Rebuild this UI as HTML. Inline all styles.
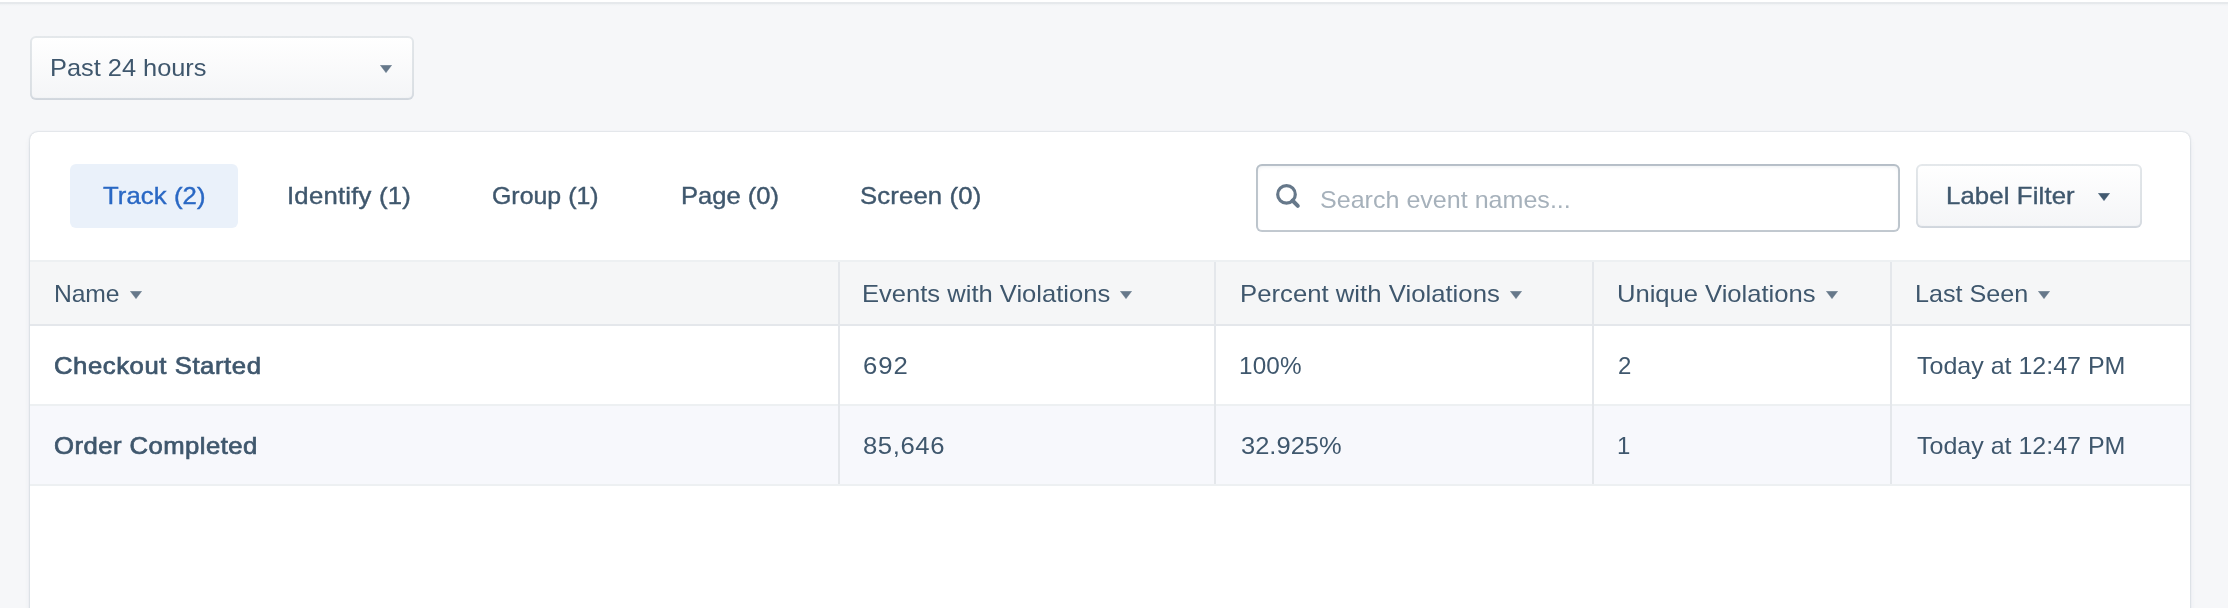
<!DOCTYPE html>
<html lang="en">
<head>
<meta charset="utf-8">
<title>Protocols - Violations</title>
<style>
html, body { margin: 0; padding: 0; }
body {
  width: 2228px; height: 608px; overflow: hidden; position: relative;
  background: #f6f7f9;
  font-family: "Liberation Sans", Arial, sans-serif;
  font-size: 24px; line-height: 26px; color: #3f576d;
}
.abs { position: absolute; }
.caret { position: absolute; }
.txt { position: absolute; white-space: nowrap; line-height: 26px; font-size: 24px; will-change: transform; transform-origin: 0 0; }
.sel { color: #2a68c4; }
.ph { color: #a6b1bb; }
.b { -webkit-text-stroke: 0.7px #3f576d; }
.tabtxt, .btntxt { -webkit-text-stroke: 0.4px #3f576d; }
.tabtxt.sel { -webkit-text-stroke: 0.4px #2a68c4; }
.topbar { position: absolute; left: 0; top: 0; width: 2228px; height: 2px; background: #fff; border-bottom: 2px solid #e6e9ec; }
.topshadow { position: absolute; left: 0; top: 4px; width: 2228px; height: 2px; background: linear-gradient(#eff1f3, #f6f7f9); }
.btn {
  position: absolute; box-sizing: border-box; border-radius: 6px;
  background-image: linear-gradient(to bottom, #ffffff, #f4f5f7);
  box-shadow: inset 0 0 0 2px rgba(67,90,111,0.14), inset 0 -2px 2px 0 rgba(67,90,111,0.06);
}
.select { left: 30px; top: 36px; width: 384px; height: 64px; }
.labelfilter { left: 1916px; top: 164px; width: 226px; height: 64px; }
.card {
  position: absolute; left: 30px; top: 132px; width: 2160px; height: 520px;
  background: #fff; border-radius: 8px;
  box-shadow: 0 0 2px rgba(67,90,111,0.35), 0 4px 8px -4px rgba(67,90,111,0.3);
}
.tab-active { position: absolute; left: 70px; top: 164px; width: 168px; height: 64px; border-radius: 6px; background: #eaf1fa; }
.search {
  position: absolute; left: 1256px; top: 164px; width: 644px; height: 68px; box-sizing: border-box;
  border-radius: 6px; background: #fff;
  box-shadow: inset 0 0 0 2px rgba(67,90,111,0.32), inset 0 2px 4px rgba(67,90,111,0.14);
}
.thead { position: absolute; left: 30px; top: 260px; width: 2160px; height: 62px; background: #f5f6f7; border-top: 2px solid #edf0f2; border-bottom: 2px solid #e4e7eb; }
.row { position: absolute; left: 30px; width: 2160px; height: 78px; border-bottom: 2px solid #edf0f2; }
.r1 { top: 326px; background: #fff; }
.r2 { top: 406px; background: #f7f8fc; }
.vdiv { position: absolute; top: 262px; width: 2px; height: 222px; background: #e4e7eb; }

</style>
</head>
<body>
<div class="topbar"></div>
<div class="topshadow"></div>

<!-- time range select -->
<div class="select btn"></div>
<span class="txt " style="left:50.1px;top:55.0px;letter-spacing:-0.015px;transform:scaleX(1.0579);">Past 24 hours</span>
<svg class="caret" style="left:380px;top:65px;" width="12" height="8" viewBox="0 0 12 8"><path d="M0.3 0.2 L11.7 0.2 L6 7.7 Z" fill="#66788a" stroke="#66788a" stroke-width="0.4" stroke-linejoin="round"/></svg>

<!-- card -->
<div class="card"></div>

<!-- tabs -->
<nav class="tabs">
<div class="tab-active"></div>
<span class="txt tabtxt sel" style="left:103.2px;top:182.8px;letter-spacing:0.085px;transform:scaleX(1.07);">Track (2)</span>
<span class="txt tabtxt" style="left:286.7px;top:182.8px;letter-spacing:0.221px;transform:scaleX(1.07);">Identify (1)</span>
<span class="txt tabtxt" style="left:492.4px;top:182.8px;letter-spacing:0.024px;transform:scaleX(1.0356);">Group (1)</span>
<span class="txt tabtxt" style="left:680.6px;top:182.8px;letter-spacing:0.027px;transform:scaleX(1.0629);">Page (0)</span>
<span class="txt tabtxt" style="left:859.7px;top:182.8px;letter-spacing:0.135px;transform:scaleX(1.07);">Screen (0)</span>
</nav>

<!-- search -->
<div class="search"></div>
<svg class="abs" style="left:1272px;top:180px;" width="32" height="32" viewBox="0 0 32 32">
  <circle cx="14.5" cy="14.4" r="8.8" fill="none" stroke="#66788a" stroke-width="3.2"/>
  <line x1="20.5" y1="20.5" x2="25.8" y2="25.8" stroke="#66788a" stroke-width="4" stroke-linecap="round"/>
</svg>
<span class="txt ph" style="left:1319.5px;top:187.0px;letter-spacing:-0.0px;transform:scaleX(1.0443);">Search event names...</span>

<!-- label filter -->
<div class="labelfilter btn"></div>
<span class="txt btntxt" style="left:1946.4px;top:183.4px;letter-spacing:0.137px;transform:scaleX(1.07);">Label Filter</span>
<svg class="caret" style="left:2098px;top:193px;" width="12" height="8" viewBox="0 0 12 8"><path d="M0.3 0.2 L11.7 0.2 L6 7.7 Z" fill="#425a70" stroke="#425a70" stroke-width="0.4" stroke-linejoin="round"/></svg>

<!-- table -->
<div class="thead"></div>
<div class="row r1"></div>
<div class="row r2"></div>
<div class="vdiv" style="left:838px;"></div>
<div class="vdiv" style="left:1214px;"></div>
<div class="vdiv" style="left:1592px;"></div>
<div class="vdiv" style="left:1890px;"></div>

<span class="txt th" style="left:53.9px;top:280.9px;letter-spacing:-0.13px;transform:scaleX(1.0295);">Name</span>
<svg class="caret" style="left:130px;top:291px;" width="12" height="8" viewBox="0 0 12 8"><path d="M0.3 0.2 L11.7 0.2 L6 7.7 Z" fill="#66788a" stroke="#66788a" stroke-width="0.4" stroke-linejoin="round"/></svg>
<span class="txt th" style="left:862.3px;top:280.9px;letter-spacing:0.0px;transform:scaleX(1.0652);">Events with Violations</span>
<svg class="caret" style="left:1120px;top:291px;" width="12" height="8" viewBox="0 0 12 8"><path d="M0.3 0.2 L11.7 0.2 L6 7.7 Z" fill="#66788a" stroke="#66788a" stroke-width="0.4" stroke-linejoin="round"/></svg>
<span class="txt th" style="left:1239.8px;top:280.9px;letter-spacing:0.02px;transform:scaleX(1.07);">Percent with Violations</span>
<svg class="caret" style="left:1510px;top:291px;" width="12" height="8" viewBox="0 0 12 8"><path d="M0.3 0.2 L11.7 0.2 L6 7.7 Z" fill="#66788a" stroke="#66788a" stroke-width="0.4" stroke-linejoin="round"/></svg>
<span class="txt th" style="left:1616.7px;top:280.9px;letter-spacing:-0.023px;transform:scaleX(1.0672);">Unique Violations</span>
<svg class="caret" style="left:1826px;top:291px;" width="12" height="8" viewBox="0 0 12 8"><path d="M0.3 0.2 L11.7 0.2 L6 7.7 Z" fill="#66788a" stroke="#66788a" stroke-width="0.4" stroke-linejoin="round"/></svg>
<span class="txt th" style="left:1915.4px;top:280.9px;letter-spacing:0.0px;transform:scaleX(1.0476);">Last Seen</span>
<svg class="caret" style="left:2038px;top:291px;" width="12" height="8" viewBox="0 0 12 8"><path d="M0.3 0.2 L11.7 0.2 L6 7.7 Z" fill="#66788a" stroke="#66788a" stroke-width="0.4" stroke-linejoin="round"/></svg>

<span class="txt td b" style="left:54.3px;top:352.9px;letter-spacing:0.529px;transform:scaleX(1.07);">Checkout Started</span>
<span class="txt td" style="left:863.4px;top:352.9px;letter-spacing:0.953px;transform:scaleX(1.07);">692</span>
<span class="txt td" style="left:1239.4px;top:352.9px;letter-spacing:0.132px;transform:scaleX(1.0119);">100%</span>
<span class="txt td" style="left:1617.6px;top:352.9px;letter-spacing:0.0px;transform:scaleX(1.0);">2</span>
<span class="txt td" style="left:1917.3px;top:352.9px;letter-spacing:-0.012px;transform:scaleX(1.0426);">Today at 12:47 PM</span>

<span class="txt td b" style="left:54.3px;top:432.8px;letter-spacing:0.425px;transform:scaleX(1.07);">Order Completed</span>
<span class="txt td" style="left:863.4px;top:432.8px;letter-spacing:0.547px;transform:scaleX(1.07);">85,646</span>
<span class="txt td" style="left:1240.5px;top:432.8px;letter-spacing:0.031px;transform:scaleX(1.0602);">32.925%</span>
<span class="txt td" style="left:1616.6px;top:432.8px;letter-spacing:0.0px;transform:scaleX(1.0);">1</span>
<span class="txt td" style="left:1917.3px;top:432.8px;letter-spacing:-0.012px;transform:scaleX(1.0426);">Today at 12:47 PM</span>
</body>
</html>
